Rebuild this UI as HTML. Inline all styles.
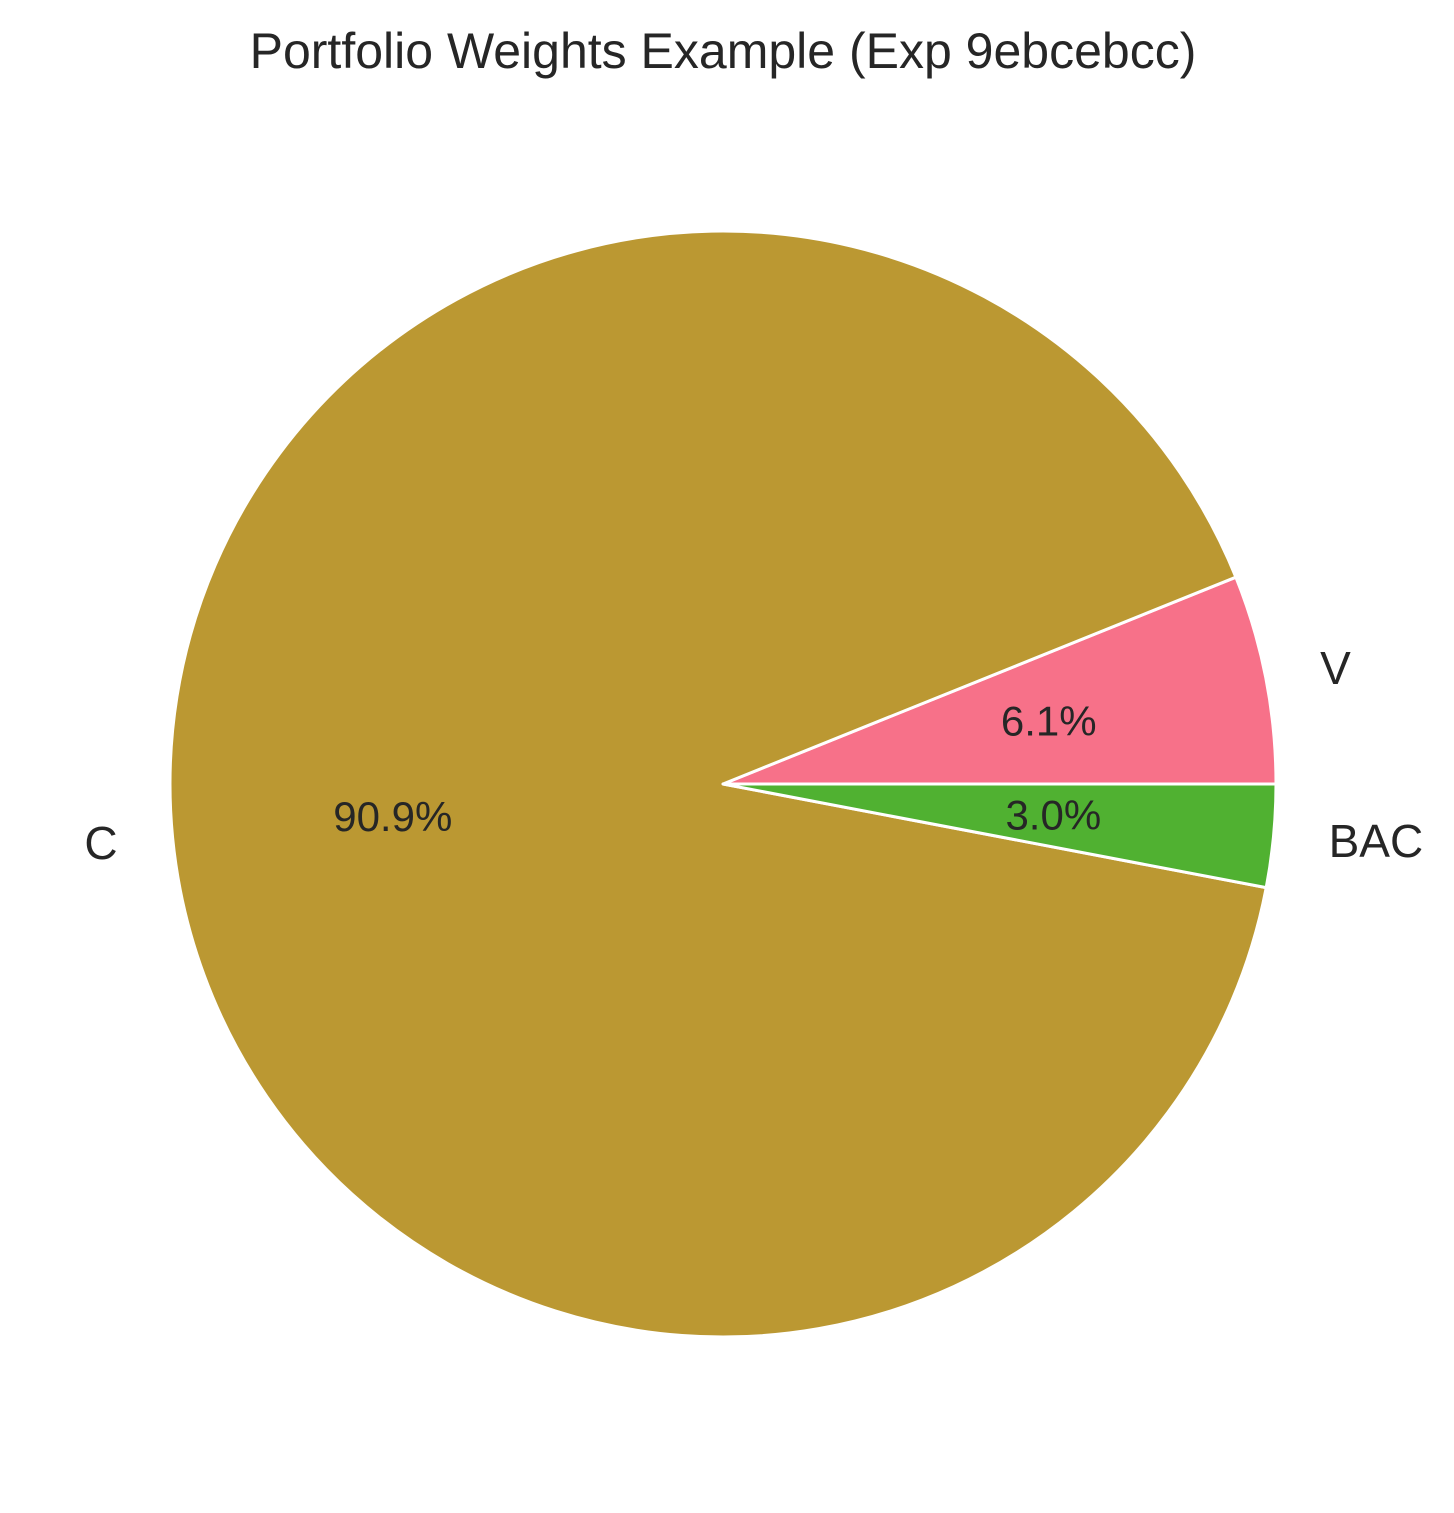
<!DOCTYPE html>
<html><head><meta charset="utf-8"><style>
body{margin:0;background:#fff;}
svg text{font-family:"Liberation Sans",Arial,sans-serif;fill:#262626;}
</style></head><body>
<svg id="chart" width="1454" height="1508" viewBox="0 0 1454 1508">
<text x="723" y="68" text-anchor="middle" font-size="50">Portfolio Weights Example (Exp 9ebcebcc)</text>
<g id="slices"></g>
</svg>
<script>
const labels = ["V", "C", "BAC"];
const values = [6.1, 90.9, 3.0];
const colors = ["#f77189", "#bb9832", "#50b131"];
const cx = 723, cy = 784, R = 553;
const svg = document.getElementById('slices');
const NS = 'http://www.w3.org/2000/svg';
const total = values.reduce((a, b) => a + b, 0);
let start = 0;
function pt(a, r) { return [cx + r * Math.cos(a), cy - r * Math.sin(a)]; }
values.forEach((v, i) => {
  const sweep = v / total * 2 * Math.PI;
  const end = start + sweep;
  const [x1, y1] = pt(start, R), [x2, y2] = pt(end, R);
  const large = sweep > Math.PI ? 1 : 0;
  const p = document.createElementNS(NS, 'path');
  p.setAttribute('d', `M${cx},${cy} L${x1},${y1} A${R},${R} 0 ${large} 0 ${x2},${y2} Z`);
  p.setAttribute('fill', colors[i]);
  p.setAttribute('stroke', '#fff');
  p.setAttribute('stroke-width', '3');
  p.setAttribute('stroke-linejoin', 'round');
  
  
  svg.appendChild(p);
  const mid = start + sweep / 2;
  const [lx, ly] = pt(mid, R * 1.1);
  const t = document.createElementNS(NS, 'text');
  t.setAttribute('x', lx); t.setAttribute('y', ly);
  t.setAttribute('font-size', '46');
  t.setAttribute('dominant-baseline', 'central');
  t.setAttribute('text-anchor', Math.cos(mid) >= 0 ? 'start' : 'end');
  t.textContent = labels[i];
  
  
  svg.appendChild(t);
  const [px, py] = pt(mid, R * 0.6);
  const q = document.createElementNS(NS, 'text');
  q.setAttribute('x', px); q.setAttribute('y', py);
  q.setAttribute('font-size', '42');
  q.setAttribute('dominant-baseline', 'central');
  q.setAttribute('text-anchor', 'middle');
  q.textContent = (v / total * 100).toFixed(1) + '%';
  
  
  svg.appendChild(q);
  start = end;
});
</script>
</body></html>
